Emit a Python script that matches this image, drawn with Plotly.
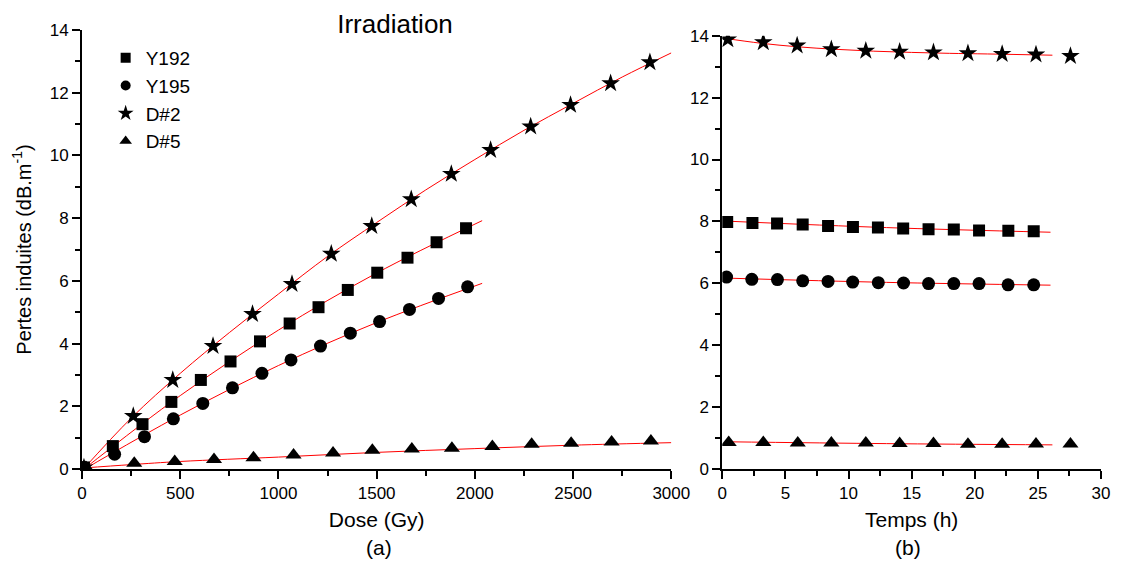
import plotly.graph_objects as go

# ---------------- Data: panel (a) irradiation ----------------
d2_dose = [10, 261, 462, 667, 868, 1069, 1269, 1475, 1676, 1880, 2080, 2284, 2487, 2691, 2891]
d2_loss = [0.05, 1.69, 2.84, 3.92, 4.94, 5.90, 6.86, 7.75, 8.60, 9.41, 10.17, 10.92, 11.61, 12.30, 12.97]

y192_dose = [10, 157, 308, 455, 605, 756, 906, 1057, 1204, 1353, 1503, 1657, 1805, 1955]
y192_loss = [0.05, 0.73, 1.43, 2.14, 2.84, 3.43, 4.07, 4.64, 5.16, 5.71, 6.26, 6.74, 7.23, 7.68]

y195_dose = [10, 166, 318, 465, 615, 766, 916, 1064, 1214, 1366, 1515, 1667, 1815, 1963]
y195_loss = [0.05, 0.47, 1.03, 1.60, 2.09, 2.59, 3.05, 3.48, 3.92, 4.33, 4.70, 5.09, 5.44, 5.81]

d5_dose = [20, 266, 472, 672, 873, 1077, 1278, 1478, 1679, 1883, 2089, 2289, 2490, 2696, 2896]
d5_loss = [0.05, 0.18, 0.24, 0.30, 0.36, 0.45, 0.51, 0.60, 0.64, 0.66, 0.72, 0.79, 0.82, 0.86, 0.89]

# fitted curves
fit_d2_x = [0, 250, 500, 750, 1000, 1250, 1500, 1750, 2000, 2250, 2500, 2750, 3000]
fit_d2_y = [-0.05, 1.62, 3.05, 4.35, 5.58, 6.78, 7.86, 8.90, 9.87, 10.80, 11.66, 12.50, 13.27]
fit_y192_x = [0, 500, 1000, 1500, 2037]
fit_y192_y = [-0.05, 2.34, 4.43, 6.25, 7.92]
fit_y195_x = [0, 500, 1000, 1500, 2037]
fit_y195_y = [-0.05, 1.72, 3.30, 4.67, 5.92]
fit_d5_x = [0, 250, 500, 1000, 1500, 2000, 2500, 3000]
fit_d5_y = [0.03, 0.14, 0.24, 0.38, 0.53, 0.65, 0.76, 0.84]

# ---------------- Data: panel (b) recovery ----------------
t_d2 = [0.44, 3.25, 5.93, 8.64, 11.37, 14.05, 16.73, 19.46, 22.17, 24.85, 27.58]
v_d2 = [13.88, 13.79, 13.68, 13.56, 13.51, 13.48, 13.46, 13.43, 13.41, 13.39, 13.34]

t_y192 = [0.39, 2.39, 4.34, 6.37, 8.38, 10.35, 12.33, 14.33, 16.34, 18.34, 20.34, 22.66, 24.67]
v_y192 = [7.98, 7.95, 7.93, 7.90, 7.85, 7.82, 7.80, 7.77, 7.75, 7.74, 7.71, 7.70, 7.68]

t_y195 = [0.34, 2.34, 4.37, 6.37, 8.38, 10.33, 12.36, 14.36, 16.34, 18.34, 20.34, 22.64, 24.67]
v_y195 = [6.20, 6.13, 6.12, 6.08, 6.06, 6.04, 6.02, 6.01, 5.99, 5.99, 5.99, 5.95, 5.95]

t_d5 = [0.51, 3.25, 5.98, 8.64, 11.37, 14.05, 16.73, 19.46, 22.17, 24.85, 27.58]
v_d5 = [0.86, 0.86, 0.84, 0.84, 0.84, 0.82, 0.82, 0.80, 0.80, 0.81, 0.81]

fitb_d2_x = [0.12, 3, 6, 9, 12, 15, 18, 21, 26.15]
fitb_d2_y = [13.92, 13.76, 13.64, 13.56, 13.50, 13.46, 13.43, 13.41, 13.37]
fitb_y192_x = [0.26, 13, 26.0]
fitb_y192_y = [8.01, 7.80, 7.65]
fitb_y195_x = [0.13, 13, 26.0]
fitb_y195_y = [6.17, 6.03, 5.94]
fitb_d5_x = [0.26, 13, 26.15]
fitb_d5_y = [0.88, 0.82, 0.78]

series_names = ["Y192", "Y195", "D#2", "D#5"]
symbols = ["square", "circle", "star", "triangle-up"]
sizes = [12, 13, 14, 14]
legend_sizes = [10, 10, 12, 11]

FONT = "Liberation Sans, Arial, sans-serif"
RED = "#ff0000"

# The page body has an 8px margin, so the figure is 8px smaller and
# reference pixel positions are shifted by 8px.
OFF = 8
W, H = 1132 - OFF, 561 - OFF
ML, MR, MT, MB = 82 - OFF, 16, 30 - OFF, 92
PW = W - ML - MR          # 1034
PH = H - MT - MB          # 439

def fx(px):  # reference pixel x -> paper x
    return (px - 82) / PW

def fy(py):  # reference pixel y -> paper y
    return (469 - py) / PH

fig = go.Figure()

def add_fit(x, y, xa, ya):
    fig.add_trace(go.Scatter(x=x, y=y, mode="lines", line=dict(color=RED, width=1, shape="spline"),
                             showlegend=False, hoverinfo="skip", xaxis=xa, yaxis=ya))

def add_pts(x, y, i, xa, ya):
    fig.add_trace(go.Scatter(x=x, y=y, mode="markers", name=series_names[i],
                             marker=dict(symbol=symbols[i], size=sizes[i], color="black"),
                             showlegend=False, xaxis=xa, yaxis=ya))

# panel (a)
add_fit(fit_d2_x, fit_d2_y, "x", "y")
add_fit(fit_y192_x, fit_y192_y, "x", "y")
add_fit(fit_y195_x, fit_y195_y, "x", "y")
add_fit(fit_d5_x, fit_d5_y, "x", "y")
add_pts(y192_dose, y192_loss, 0, "x", "y")
add_pts(y195_dose, y195_loss, 1, "x", "y")
add_pts(d2_dose, d2_loss, 2, "x", "y")
add_pts(d5_dose, d5_loss, 3, "x", "y")

# panel (b)
add_fit(fitb_d2_x, fitb_d2_y, "x2", "y2")
add_fit(fitb_y192_x, fitb_y192_y, "x2", "y2")
add_fit(fitb_y195_x, fitb_y195_y, "x2", "y2")
add_fit(fitb_d5_x, fitb_d5_y, "x2", "y2")
add_pts(t_y192, v_y192, 0, "x2", "y2")
add_pts(t_y195, v_y195, 1, "x2", "y2")
add_pts(t_d2, v_d2, 2, "x2", "y2")
add_pts(t_d5, v_d5, 3, "x2", "y2")

# legend entries (smaller symbols as in the reference)
for i, n in enumerate(series_names):
    fig.add_trace(go.Scatter(x=[None], y=[None], mode="markers", name=n,
                             marker=dict(symbol=symbols[i], size=legend_sizes[i], color="black"),
                             xaxis="x", yaxis="y"))

def axis_common():
    return dict(showline=True, linecolor="black", linewidth=2, mirror=False,
                ticks="outside", ticklen=8, tickwidth=1.5, tickcolor="black",
                showgrid=False, zeroline=False,
                tickfont=dict(family=FONT, size=17, color="black"))

def minor(dt):
    return dict(ticks="outside", dtick=dt, ticklen=5, tickwidth=1.5, tickcolor="black")

TITLE_FONT = dict(family=FONT, size=21, color="black")

xa = axis_common()
xa.update(domain=[0, fx(680)], range=[0, 3000], dtick=500, tick0=0, minor=minor(250),
          title=dict(text="Dose (Gy)", font=TITLE_FONT, standoff=10), anchor="y")
ya = axis_common()
ya.update(domain=[0, 1], range=[0, 14], dtick=2, tick0=0, minor=minor(1),
          title=dict(text="Pertes induites (dB.m<sup>-1</sup>)",
                     font=dict(family=FONT, size=20, color="black"), standoff=13),
          anchor="x")
xb = axis_common()
xb.update(domain=[fx(731.7), 1], range=[0, 30], dtick=5, tick0=0, minor=minor(2.5),
          title=dict(text="Temps (h)", font=TITLE_FONT, standoff=10), anchor="y2")
yb = axis_common()
yb.update(domain=[0, fy(35.7)], range=[0, 14], dtick=2, tick0=0, minor=minor(1), anchor="x2")

fig.update_layout(
    width=W, height=H,
    margin=dict(l=ML, r=MR, t=MT, b=MB),
    paper_bgcolor="white", plot_bgcolor="white",
    font=dict(family=FONT, color="black"),
    xaxis=xa, yaxis=ya, xaxis2=xb, yaxis2=yb,
    title=dict(text="Irradiation", x=(395 - OFF) / W, xanchor="center",
               y=1 - (24 - OFF) / H, yanchor="middle",
               font=dict(family=FONT, size=26, color="black")),
    legend=dict(x=fx(106), xanchor="left", y=fy(39), yanchor="top",
                bgcolor="rgba(0,0,0,0)", borderwidth=0,
                font=dict(family=FONT, size=19, color="black"),
                itemsizing="trace", tracegroupgap=0),
    showlegend=True,
    annotations=[
        dict(text="(a)", x=fx(383), y=fy(547), xref="paper", yref="paper",
             xanchor="center", yanchor="middle", showarrow=False,
             font=dict(family=FONT, size=21, color="black")),
        dict(text="(b)", x=fx(920), y=fy(547), xref="paper", yref="paper",
             xanchor="center", yanchor="middle", showarrow=False,
             font=dict(family=FONT, size=21, color="black")),
    ],
)

fig.write_html("out.html")
